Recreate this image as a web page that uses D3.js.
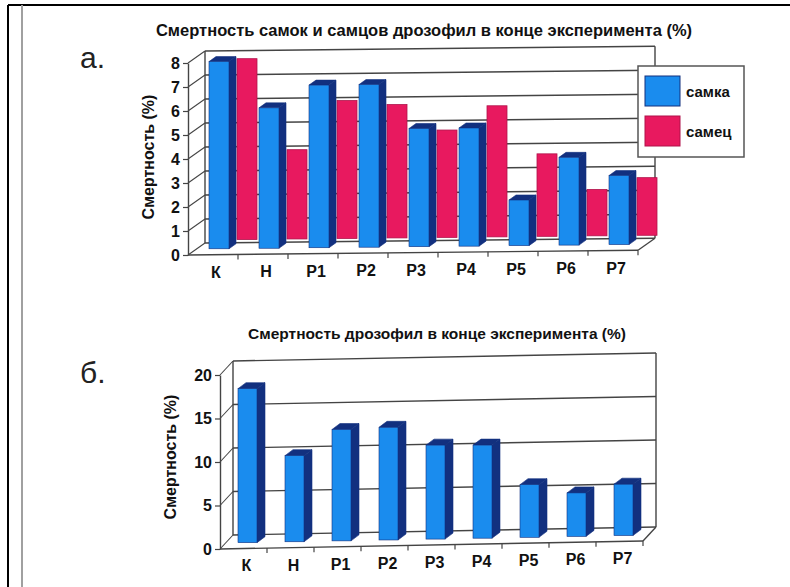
<!DOCTYPE html>
<html><head><meta charset="utf-8">
<script src="https://cdn.jsdelivr.net/npm/d3@7"></script>
<style>
html,body{margin:0;padding:0;background:#fff;}
svg text{font-family:"Liberation Sans",Arial,sans-serif;}
</style></head>
<body><svg id="c" width="790" height="587"></svg>
<script>
// ---- data ----
const categories = ["К","Н","Р1","Р2","Р3","Р4","Р5","Р6","Р7"];
const femaleValues = [8, 6, 6.95, 6.95, 5.05, 5.05, 1.95, 3.75, 2.95];   // самка
const maleValues   = [8, 3.95, 6.1, 5.9, 4.75, 5.8, 3.65, 2.05, 2.55];   // самец
const totalValues  = [17.7, 9.9, 12.8, 12.95, 10.8, 10.7, 6.05, 5.0, 5.9];
const seriesNames = ["самка","самец"];
const titleTop = "Смертность самок и самцов дрозофил в конце эксперимента (%)";
const titleBottom = "Смертность дрозофил в конце эксперимента (%)";
const yTitle = "Смертность (%)";
const topTicks = [0,1,2,3,4,5,6,7,8];
const bottomTicks = [0,5,10,15,20];

const BLUE="#1a8cee", BLUE_D="#12307f", PINK="#e8195f", PINK_D="#b0124a", GRID="#444";
const svg = d3.select("#c");
svg.append("rect").attr("width",790).attr("height",587).attr("fill","#fff");
// frame
svg.append("line").attr("x1",8).attr("y1",5).attr("x2",790).attr("y2",5).attr("stroke","#000").attr("stroke-width",2);
svg.append("line").attr("x1",8).attr("y1",5).attr("x2",8).attr("y2",587).attr("stroke","#000").attr("stroke-width",2);
svg.append("line").attr("x1",22).attr("y1",5).attr("x2",22).attr("y2",587).attr("stroke","#a0a0a0").attr("stroke-width",2);

function bar3d(g, x, yb, h, w, dx, dy, face, side, top, stroke){
  g.append("path").attr("d",`M${x+w},${yb}L${x+w+dx},${yb-dy}L${x+w+dx},${yb-h-dy}L${x+w},${yb-h}Z`)
    .attr("fill",side).attr("stroke",stroke).attr("stroke-width",0.6);
  g.append("path").attr("d",`M${x},${yb-h}L${x+dx},${yb-h-dy}L${x+w+dx},${yb-h-dy}L${x+w},${yb-h}Z`)
    .attr("fill",top).attr("stroke",stroke).attr("stroke-width",0.6);
  g.append("rect").attr("x",x).attr("y",yb-h).attr("width",w).attr("height",h)
    .attr("fill",face).attr("stroke",stroke).attr("stroke-width",0.6);
}

function chart(o){
  const g = svg.append("g");
  const x = d3.scaleBand().domain(categories).range([o.x0, o.x1]);
  const span = o.x1 - o.x0;
  const yFront = d3.scaleLinear().domain([0,o.max]).range([o.y0, o.y0 - o.unit*o.max]);
  const ticks = o.ticks;
  // back wall grid
  ticks.forEach(v=>{
    const yl = o.y0 - o.DY - o.unit*v;
    g.append("line").attr("x1",o.x0+o.DX).attr("y1",yl).attr("x2",o.x1+o.DX).attr("y2",yl+o.slope*span)
      .attr("stroke",GRID).attr("stroke-width",1.4);
    g.append("line").attr("x1",o.x0).attr("y1",yFront(v)).attr("x2",o.x0+o.DX).attr("y2",yl)
      .attr("stroke",GRID).attr("stroke-width",1.1);
  });
  const yTopL = o.y0 - o.DY - o.unit*o.max;
  g.append("line").attr("x1",o.x0+o.DX).attr("y1",o.y0-o.DY).attr("x2",o.x0+o.DX).attr("y2",yTopL).attr("stroke",GRID).attr("stroke-width",1.4);
  g.append("line").attr("x1",o.x1+o.DX).attr("y1",o.y0-o.DY+o.slope*span).attr("x2",o.x1+o.DX).attr("y2",yTopL+o.slope*span).attr("stroke",GRID).attr("stroke-width",1.4);
  // floor front + right edge
  g.append("line").attr("x1",o.x0).attr("y1",o.y0).attr("x2",o.x1).attr("y2",o.y0+o.slope*span).attr("stroke",GRID).attr("stroke-width",1.4);
  g.append("line").attr("x1",o.x1).attr("y1",o.y0+o.slope*span).attr("x2",o.x1+o.DX).attr("y2",o.y0-o.DY+o.slope*span).attr("stroke",GRID).attr("stroke-width",1.4);
  // x ticks + labels
  categories.forEach((c,i)=>{
    const xx = x(c)+x.bandwidth();
    const yy = o.y0 + o.slope*(xx-o.x0);
    g.append("line").attr("x1",xx).attr("y1",yy).attr("x2",xx).attr("y2",yy+5).attr("stroke",GRID).attr("stroke-width",1.2);
    const cx = x(c)+x.bandwidth()/2+3;
    g.append("text").attr("x",cx).attr("y",o.labelY + o.slope*(cx-o.x0)).attr("text-anchor","middle")
      .attr("font-weight","bold").attr("font-size",16).attr("fill","#111").text(c);
  });
  // series
  o.series.forEach(s=>{
    const hs = d3.scaleLinear().domain([0,o.max]).range([0, s.unit*o.max]);
    categories.forEach((c,i)=>{
      const bx = x(c)+s.off;
      const yb = s.base + o.slope*(bx-o.x0);
      if(s.flat){
        g.append("rect").attr("x",bx).attr("y",yb-hs(s.values[i])).attr("width",s.w).attr("height",hs(s.values[i]))
          .attr("fill",s.color).attr("stroke",s.stroke).attr("stroke-width",0.8);
      } else {
        bar3d(g,bx,yb,hs(s.values[i]),s.w,s.dx,s.dy,s.color,s.side,s.side,s.stroke);
      }
    });
  });
  // y axis
  const ax = g.append("g").attr("transform",`translate(${o.x0},0)`)
    .call(d3.axisLeft(yFront).tickValues(ticks).tickSize(5).tickSizeOuter(0).tickPadding(3));
  ax.select(".domain").attr("stroke",GRID).attr("stroke-width",1.4);
  ax.selectAll(".tick line").attr("stroke",GRID).attr("stroke-width",1.2);
  ax.selectAll(".tick text").attr("font-size",16).attr("font-weight","bold").attr("fill","#111")
    .attr("font-family","Liberation Sans, Arial, sans-serif");
  // titles
  g.append("text").attr("x",o.titleX).attr("y",o.titleY).attr("text-anchor","middle").attr("font-weight","bold")
    .attr("font-size",o.titleSize).attr("fill","#111").text(o.title);
  g.append("text").attr("transform",`translate(${o.ytX},${o.ytY}) rotate(-90)`).attr("text-anchor","middle")
    .attr("font-weight","bold").attr("font-size",16).attr("fill","#111").text(yTitle);
  g.append("text").attr("x",80).attr("y",o.letterY).attr("font-size",30).attr("fill","#222").text(o.letter);
  return g;
}

chart({x0:188,x1:638,y0:255,unit:24,max:8,DX:17,DY:12,slope:-0.0105,ticks:topTicks,labelY:278,
  title:titleTop,titleX:424,titleY:36,titleSize:16.5,ytX:154,ytY:157,letter:"а.",letterY:68,
  series:[
    {values:maleValues,off:49,w:20,base:240,unit:22.6,flat:true,color:PINK,stroke:PINK_D},
    {values:femaleValues,off:21,w:20,base:249,unit:23.4,dx:7,dy:5,color:BLUE,side:BLUE_D,stroke:BLUE_D}
  ]});

chart({x0:220,x1:643,y0:549,unit:8.7,max:20,DX:13,DY:14,slope:-0.019,ticks:bottomTicks,labelY:572,
  title:titleBottom,titleX:437,titleY:339,titleSize:15.5,ytX:176,ytY:457,letter:"б.",letterY:383,
  series:[
    {values:totalValues,off:18,w:19,base:543,unit:8.7,dx:8,dy:6,color:BLUE,side:BLUE_D,stroke:BLUE_D}
  ]});

// legend
const lg = svg.append("g");
lg.append("rect").attr("x",638).attr("y",66).attr("width",106).attr("height",91).attr("fill","#fff").attr("stroke","#555").attr("stroke-width",1.5);
[BLUE,PINK].forEach((col,i)=>{
  lg.append("rect").attr("x",645).attr("y",76+i*40).attr("width",35).attr("height",30).attr("fill",col)
    .attr("stroke",i?PINK_D:BLUE_D).attr("stroke-width",1);
  lg.append("text").attr("x",686).attr("y",97+i*40).attr("font-weight","bold").attr("font-size",15).attr("fill","#111").text(seriesNames[i]);
});
</script></body></html>
